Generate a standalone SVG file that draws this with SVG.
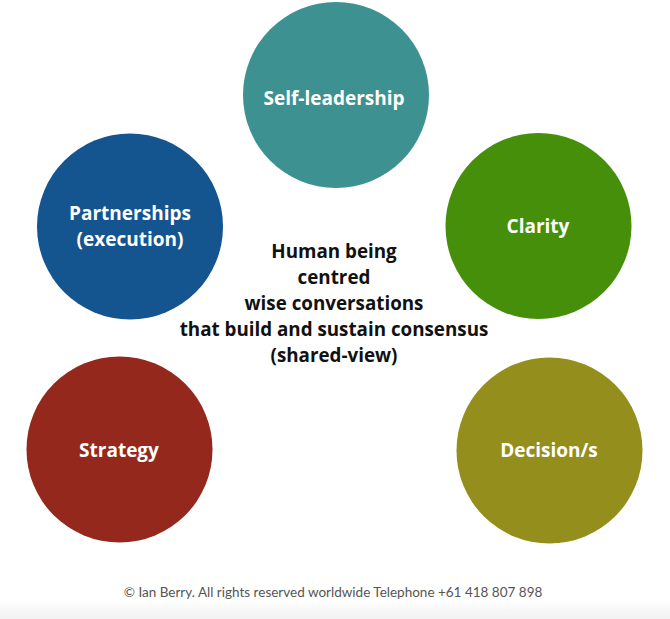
<svg xmlns="http://www.w3.org/2000/svg" width="670" height="619" viewBox="0 0 670 619">
<defs>
<style>
.lbl{font-family:"Open Sans",Lato,"Liberation Sans",sans-serif;font-weight:700;font-size:19px;fill:#ffffff;text-anchor:middle}
.ctr{font-family:"Open Sans",Lato,"Liberation Sans",sans-serif;font-weight:700;font-size:18.8px;fill:#111111;text-anchor:middle}
.foot{font-family:Lato,"Open Sans","Liberation Sans",sans-serif;font-size:13.5px;fill:#555555;text-anchor:middle}
</style>
<linearGradient id="bg" x1="0" y1="0" x2="0" y2="1">
<stop offset="0" stop-color="#ffffff"/>
<stop offset="1" stop-color="#f2f2f2"/>
</linearGradient>
</defs>
<rect width="670" height="619" fill="#ffffff"/>
<rect x="0" y="600" width="670" height="19" fill="url(#bg)"/>
<g id="self-leadership">
<circle cx="336" cy="95" r="93" fill="#3d9190"/>
<text class="lbl" x="334" y="105">Self-leadership</text>
</g>
<g id="clarity">
<circle cx="538.5" cy="226" r="93" fill="#458f0a"/>
<text class="lbl" x="538" y="233">Clarity</text>
</g>
<g id="partnerships">
<circle cx="130" cy="226.5" r="93" fill="#14548f"/>
<text class="lbl" x="130" y="220">Partnerships</text>
<text class="lbl" x="130" y="246">(execution)</text>
</g>
<g id="strategy">
<circle cx="119.5" cy="449.5" r="93" fill="#94281d"/>
<text class="lbl" x="119" y="457">Strategy</text>
</g>
<g id="decisions">
<circle cx="549.5" cy="450.5" r="93" fill="#948f1c"/>
<text class="lbl" x="549" y="457">Decision/s</text>
</g>
<g id="centre">
<text class="ctr" x="334" y="258">Human being</text>
<text class="ctr" x="334" y="284">centred</text>
<text class="ctr" x="334" y="310">wise conversations</text>
<text class="ctr" x="334" y="336">that build and sustain consensus</text>
<text class="ctr" x="334" y="362">(shared-view)</text>
</g>
<g id="connectors"></g>
<text class="foot" x="333" y="597">© Ian Berry. All rights reserved worldwide Telephone +61 418 807 898</text>
</svg>
